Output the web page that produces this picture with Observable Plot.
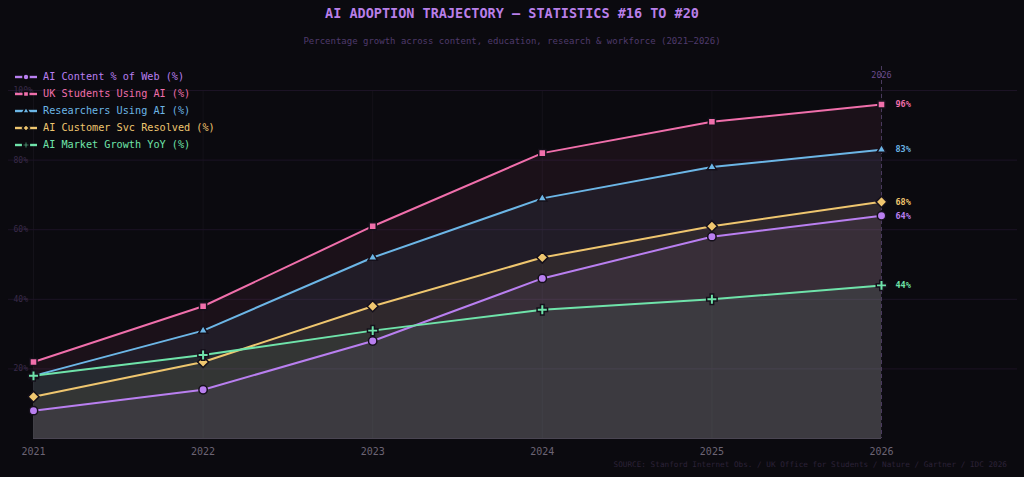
<!DOCTYPE html>
<html>
<head>
<meta charset="utf-8">
<script src="https://cdn.jsdelivr.net/npm/d3@7"></script>
<script src="https://cdn.jsdelivr.net/npm/@observablehq/plot@0.6"></script>
<style>
  html, body { margin: 0; padding: 0; background: #0b0a0f; }
  #chart { position: relative; width: 1024px; height: 477px; background: #0b0a0f; font-family: "DejaVu Sans Mono", monospace; overflow: hidden; }
  #chart > svg { position: absolute; left: 0; top: 0; }
  .title { position: absolute; top: 5px; left: 0; width: 1024px; text-align: center; font-size: 13.5px; font-weight: bold; color: #b97fe8; line-height: 16px; }
  .subtitle { position: absolute; top: 35px; left: 0; width: 1024px; text-align: center; font-size: 9px; color: #4f3a6c; line-height: 12px; }
  .source { position: absolute; top: 460px; right: 17px; font-size: 7.7px; color: #2c2238; line-height: 10px; }
  .legend { position: absolute; left: 14px; top: 68px; font-size: 10.2px; line-height: 17px; }
  .legend div { display: flex; align-items: center; height: 17px; }
  .legend svg { margin-right: 5px; }
</style>
</head>
<body>
<div id="chart">
</div>
<script>
// Years on the x axis
const years = [2021, 2022, 2023, 2024, 2025, 2026];

// Series names, in legend order
const seriesNames = [
  "AI Content % of Web (%)",
  "UK Students Using AI (%)",
  "Researchers Using AI (%)",
  "AI Customer Svc Resolved (%)",
  "AI Market Growth YoY (%)"
];

// Values per series (percent)
const contentWeb   = [8, 14, 28, 46, 58, 64];
const ukStudents   = [22, 38, 61, 82, 91, 96];
const researchers  = [18, 31, 52, 69, 78, 83];
const customerSvc  = [12, 22, 38, 52, 61, 68];
const marketGrowth = [18, 24, 31, 37, 40, 44];

const seriesValues = [contentWeb, ukStudents, researchers, customerSvc, marketGrowth];

const seriesColors = ["#b97ff0", "#f06fab", "#6cb6e6", "#efc66f", "#6fe3aa"];
const seriesSymbols = ["circle", "square", "triangle", "diamond2", "cross"];
const symbolRadius = [4.2, 4, 3.4, 5, 4.4];

const yTicks = [20, 40, 60, 80, 100];

// Long-format table for Plot
const rows = seriesNames.flatMap((name, i) =>
  years.map((year, j) => ({series: name, year, value: seriesValues[i][j]}))
);
const lastRows = rows.filter(d => d.year === years[years.length - 1]);

const root = document.getElementById("chart");

const plot = Plot.plot({
  width: 1024,
  height: 477,
  marginLeft: 33,
  marginRight: 143,
  marginTop: 90,
  marginBottom: 39,
  style: {background: "transparent", fontFamily: "DejaVu Sans Mono, monospace", overflow: "visible"},
  x: {domain: [years[0], years[years.length - 1]], label: null},
  y: {domain: [0, 100], label: null},
  color: {domain: seriesNames, range: seriesColors},
  symbol: {domain: seriesNames, range: seriesSymbols},
  marks: [
    // faint grid
    Plot.ruleX(years, {stroke: "#141219", strokeWidth: 1}),
    Plot.ruleY(yTicks, {stroke: "#1c1325", strokeWidth: 1, insetLeft: -25, insetRight: -136}),
    // y tick labels sitting at the left edge
    Plot.axisY({ticks: yTicks, label: null, tickSize: 0, tickPadding: 0, textAnchor: "start", dx: -20, tickFormat: d => d + "%", fill: "#3a2a4a", fontSize: 8}),
    // x axis labels
    Plot.axisX({ticks: years, label: null, tickSize: 0, tickPadding: 9, tickFormat: d => String(d), fill: "#6c6474", fontSize: 10}),
    // translucent areas under each line, each from zero (not stacked)
    Plot.areaY(rows, {x: "year", y1: 0, y2: "value", z: "series", fill: "series", fillOpacity: 0.072}),
    Plot.ruleY([0], {stroke: "#4a4552", strokeWidth: 1}),
    // final-year marker line
    Plot.ruleX([years[years.length - 1]], {stroke: "#4a3a5e", strokeWidth: 1, strokeDasharray: "4,3", insetTop: -24}),
    Plot.text([years[years.length - 1]], {x: d => d, frameAnchor: "top", dy: -19, text: d => String(d), fill: "#6a4a8c", fontSize: 8.5}),
    // lines
    Plot.line(rows, {x: "year", y: "value", z: "series", stroke: "series", strokeWidth: 2}),
    // markers, one mark per series so each symbol gets its own size
    ...seriesNames.map((name, i) =>
      Plot.dot(rows.filter(d => d.series === name), {
        x: "year", y: "value", fill: "series", symbol: "series",
        stroke: "#15101b", strokeWidth: 1.5, r: symbolRadius[i]
      })
    ),
    // end labels
    Plot.text(lastRows, {x: "year", y: "value", text: d => d.value + "%", fill: "series", dx: 14, textAnchor: "start", fontSize: 8.5, fontWeight: "bold"})
  ]
});
root.appendChild(plot);

// Title, subtitle, source
const title = document.createElement("div");
title.className = "title";
title.textContent = "AI ADOPTION TRAJECTORY — STATISTICS #16 TO #20";
root.appendChild(title);

const subtitle = document.createElement("div");
subtitle.className = "subtitle";
subtitle.textContent = "Percentage growth across content, education, research & workforce (2021–2026)";
root.appendChild(subtitle);

const source = document.createElement("div");
source.className = "source";
source.textContent = "SOURCE: Stanford Internet Obs. / UK Office for Students / Nature / Gartner / IDC 2026";
root.appendChild(source);

// Legend: line swatch with the series marker, then the label
const legend = document.createElement("div");
legend.className = "legend";
const symbolPaths = {
  circle: d3.symbol(d3.symbolCircle, 28)(),
  square: d3.symbol(d3.symbolSquare, 28)(),
  triangle: d3.symbol(d3.symbolTriangle, 20)(),
  diamond2: d3.symbol(d3.symbolDiamond2, 30)(),
  cross: d3.symbol(d3.symbolCross, 24)()
};
seriesNames.forEach((name, i) => {
  const row = document.createElement("div");
  row.innerHTML =
    `<svg width="24" height="12" viewBox="0 0 24 12">` +
    `<line x1="1" x2="23" y1="6" y2="6" stroke="${seriesColors[i]}" stroke-width="2.4"/>` +
    `<path d="${symbolPaths[seriesSymbols[i]]}" transform="translate(12,6)" fill="${seriesColors[i]}" stroke="#0b0a0f" stroke-width="1.6"/>` +
    `</svg><span style="color:${seriesColors[i]}">${name}</span>`;
  legend.appendChild(row);
});
root.appendChild(legend);
</script>
</body>
</html>
